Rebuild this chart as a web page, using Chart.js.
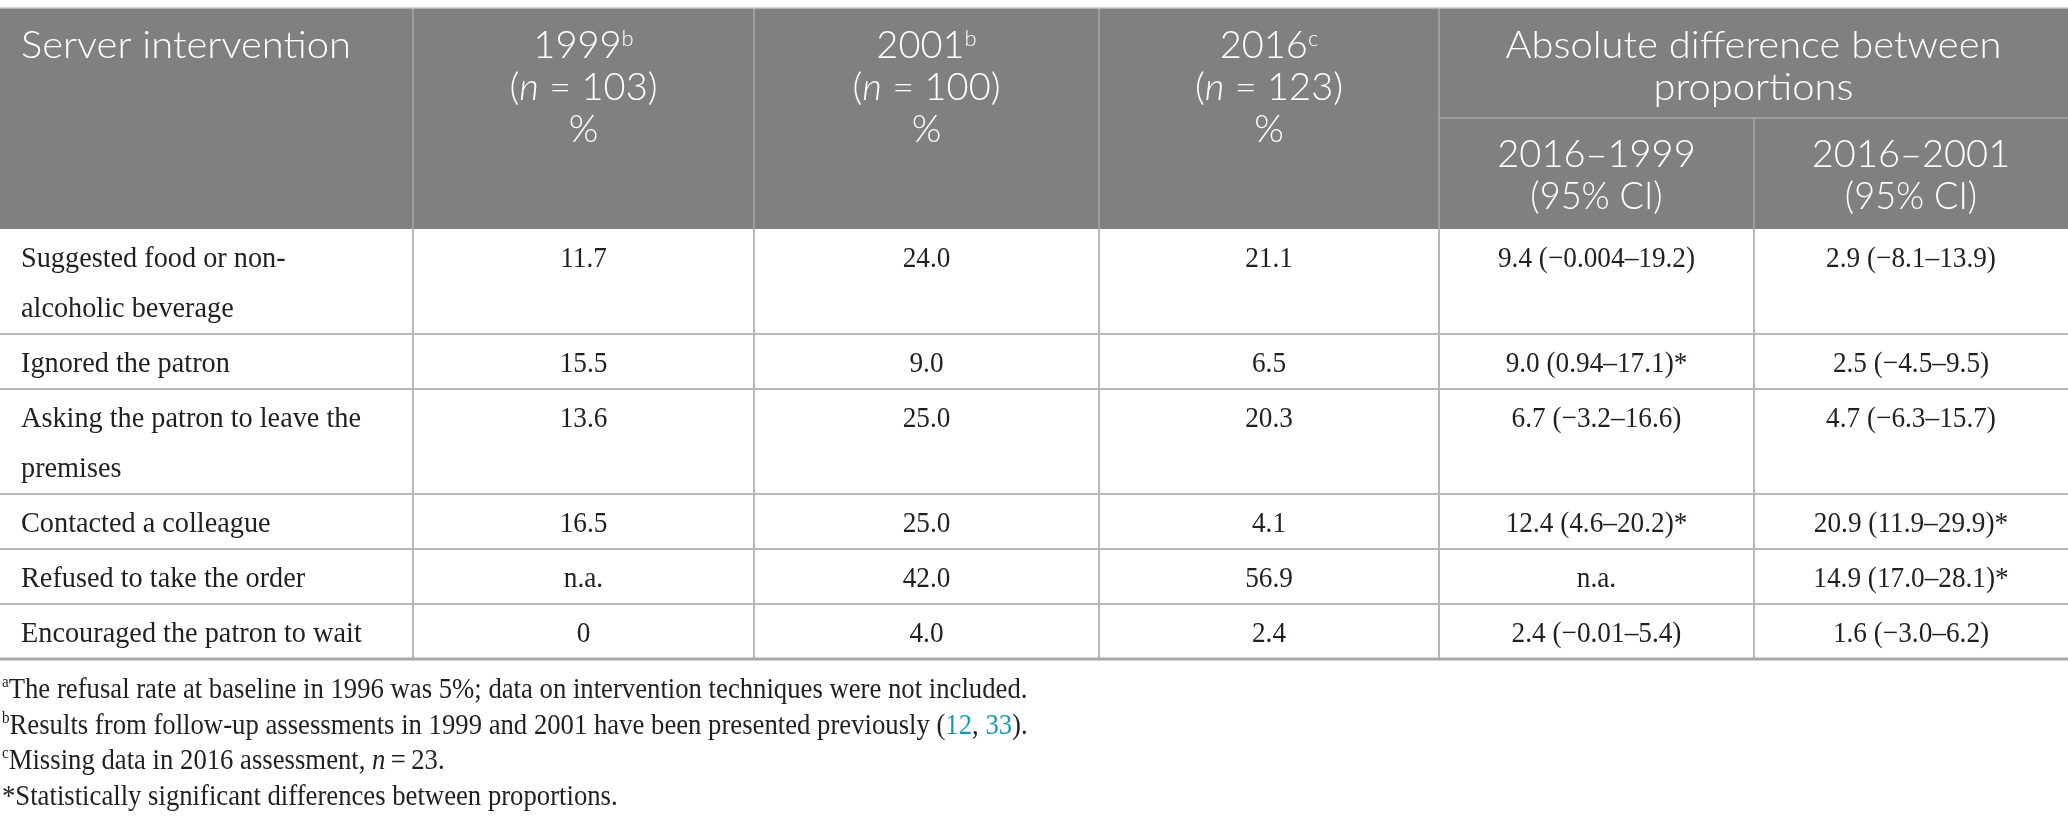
<!DOCTYPE html>
<html><head><meta charset="utf-8">
<script src="https://cdn.jsdelivr.net/npm/chart.js@4.4.0/dist/chart.umd.min.js"></script>
<style>html,body{margin:0;padding:0;background:#fff;}#wrap{width:2068px;height:830px;position:relative;}</style>
</head><body><div id="wrap"><canvas id="c"></canvas></div>
<script>
// ---- DATA ----
const interventions = [
  ["Suggested food or non-", "alcoholic beverage"],
  ["Ignored the patron"],
  ["Asking the patron to leave the", "premises"],
  ["Contacted a colleague"],
  ["Refused to take the order"],
  ["Encouraged the patron to wait"]
];
const pct1999 = ["11.7", "15.5", "13.6", "16.5", "n.a.", "0"];
const pct2001 = ["24.0", "9.0", "25.0", "25.0", "42.0", "4.0"];
const pct2016 = ["21.1", "6.5", "20.3", "4.1", "56.9", "2.4"];
const diff2016vs1999 = ["9.4 (\u22120.004\u201319.2)", "9.0 (0.94\u201317.1)*", "6.7 (\u22123.2\u201316.6)", "12.4 (4.6\u201320.2)*", "n.a.", "2.4 (\u22120.01\u20135.4)"];
const diff2016vs2001 = ["2.9 (\u22128.1\u201313.9)", "2.5 (\u22124.5\u20139.5)", "4.7 (\u22126.3\u201315.7)", "20.9 (11.9\u201329.9)*", "14.9 (17.0\u201328.1)*", "1.6 (\u22123.0\u20136.2)"];
const firstHeader = "Server intervention";
const years = ["1999", "2001", "2016"];
const yearNotes = ["b", "b", "c"];
const sampleSizes = ["103", "100", "123"];
const spanHeader = ["Absolute difference between", "proportions"];
const diffHeaders = ["2016\u20131999", "2016\u20132001"];
const ciLabel = "(95% CI)";
const footnoteMarks = ["a", "b", "c", "*"];
const footnoteTexts = [
  "The refusal rate at baseline in 1996 was 5%; data on intervention techniques were not included.",
  "Results from follow-up assessments in 1999 and 2001 have been presented previously (",
  "Missing data in 2016 assessment, ",
  "Statistically significant differences between proportions."
];
const refs = ["12", "33"];

// ---- LAYOUT / STYLE ----
const W = 2068, H = 830;
const colEdges = [0, 413, 754, 1099, 1439, 1754, 2068];
const headTop = 8, subLine = 118, headBottom = 229;
const rowBase = 38, lineGap = 50, rowPad = 55;
const SANS = "Lato, 'Open Sans', sans-serif";
const SERIF = "'Liberation Serif', 'DejaVu Serif', serif";
const headSize = 38, bodySize = 29, noteSize = 30;

function drawRich(ctx, segs, x, y, align) {
  let total = 0;
  segs.forEach(s => { ctx.font = s.font; s.w = ctx.measureText(s.t).width * (s.sx || 1); total += s.w; });
  let cx = align === 'center' ? x - total / 2 : x;
  ctx.textAlign = 'left'; ctx.textBaseline = 'alphabetic';
  segs.forEach(s => {
    ctx.font = s.font; ctx.fillStyle = s.color;
    ctx.save(); ctx.translate(cx, y + (s.dy || 0)); ctx.scale(s.sx || 1, 1);
    ctx.fillText(s.t, 0, 0); ctx.restore();
    cx += s.w;
  });
}

const tablePlugin = {
  id: 'table',
  afterDraw(chart) {
    const ctx = chart.ctx, xs = chart.scales.x, ys = chart.scales.y;
    const X = v => xs.getPixelForValue(v), Y = v => ys.getPixelForValue(v);
    const colMid = i => X((colEdges[i] + colEdges[i + 1]) / 2);
    ctx.save();
    // header background
    ctx.fillStyle = '#808080';
    ctx.fillRect(X(0), Y(headTop), X(W) - X(0), Y(headBottom) - Y(headTop));
    // header lines
    ctx.strokeStyle = '#a9a9a9'; ctx.lineWidth = 1.5;
    ctx.beginPath();
    for (let i = 1; i < colEdges.length - 1; i++) {
      const top = i === 5 ? subLine : headTop;
      ctx.moveTo(X(colEdges[i]), Y(top)); ctx.lineTo(X(colEdges[i]), Y(headBottom));
    }
    ctx.moveTo(X(colEdges[4]), Y(subLine)); ctx.lineTo(X(W), Y(subLine));
    ctx.stroke();
    ctx.strokeStyle = '#c4c4c4'; ctx.lineWidth = 1.5;
    ctx.beginPath(); ctx.moveTo(X(0), Y(headTop)); ctx.lineTo(X(W), Y(headTop)); ctx.stroke();

    // header text
    const hf = '300 ' + headSize + 'px ' + SANS, hfi = 'italic 300 ' + headSize + 'px ' + SANS, hsup = '300 22px ' + SANS;
    const wht = '#ffffff';
    drawRich(ctx, [{ t: firstHeader, font: hf, color: wht, sx: 1.05 }], X(21), Y(58), 'left');
    years.forEach((yr, i) => {
      const cx = colMid(i + 1);
      drawRich(ctx, [{ t: yr, font: hf, color: wht }, { t: yearNotes[i], font: hsup, color: wht, dy: -12 }], cx, Y(58), 'center');
      drawRich(ctx, [{ t: '(', font: hf, color: wht }, { t: 'n', font: hfi, color: wht }, { t: ' = ' + sampleSizes[i] + ')', font: hf, color: wht }], cx, Y(100), 'center');
      drawRich(ctx, [{ t: '%', font: hf, color: wht }], cx, Y(142), 'center');
    });
    const spanMid = X((colEdges[4] + colEdges[6]) / 2);
    spanHeader.forEach((t, k) => drawRich(ctx, [{ t, font: hf, color: wht, sx: 1.05 }], spanMid, Y(58 + 42 * k), 'center'));
    diffHeaders.forEach((t, k) => {
      drawRich(ctx, [{ t, font: hf, color: wht }], colMid(4 + k), Y(167), 'center');
      drawRich(ctx, [{ t: ciLabel, font: hf, color: wht, sx: 0.95 }], colMid(4 + k), Y(209), 'center');
    });

    // body
    const bf = bodySize + 'px ' + SERIF, ink = '#231f20';
    const cols = [pct1999, pct2001, pct2016, diff2016vs1999, diff2016vs2001];
    let top = headBottom;
    const rowEdges = [top];
    interventions.forEach((lines, r) => {
      const h = rowPad + lineGap * (lines.length - 1);
      lines.forEach((ln, k) => drawRich(ctx, [{ t: ln, font: bf, color: ink, sx: 0.975 }], X(21), Y(top + rowBase + lineGap * k), 'left'));
      cols.forEach((arr, c) => drawRich(ctx, [{ t: arr[r], font: bf, color: ink, sx: 0.94 }], colMid(c + 1), Y(top + rowBase), 'center'));
      top += h; rowEdges.push(top);
    });
    // body grid
    ctx.strokeStyle = '#b8b8b8'; ctx.lineWidth = 2;
    ctx.beginPath();
    rowEdges.slice(1, -1).forEach(e => { ctx.moveTo(X(0), Y(e)); ctx.lineTo(X(W), Y(e)); });
    for (let i = 1; i < colEdges.length - 1; i++) { ctx.moveTo(X(colEdges[i]), Y(headBottom)); ctx.lineTo(X(colEdges[i]), Y(top)); }
    ctx.stroke();
    ctx.strokeStyle = '#a8a8a8'; ctx.lineWidth = 3;
    ctx.beginPath(); ctx.moveTo(X(0), Y(top)); ctx.lineTo(X(W), Y(top)); ctx.stroke();

    // footnotes
    const nf = noteSize + 'px ' + SERIF, nfi = 'italic ' + noteSize + 'px ' + SERIF, nsup = '17px ' + SERIF;
    const sx = 0.89, teal = '#1b9ab2';
    const fb = top + 39, fg = 35.5;
    drawRich(ctx, [{ t: footnoteMarks[0], font: nsup, color: ink, dy: -11, sx }, { t: footnoteTexts[0], font: nf, color: ink, sx }], X(2), Y(fb), 'left');
    drawRich(ctx, [{ t: footnoteMarks[1], font: nsup, color: ink, dy: -11, sx }, { t: footnoteTexts[1], font: nf, color: ink, sx },
      { t: refs[0], font: nf, color: teal, sx }, { t: ', ', font: nf, color: ink, sx }, { t: refs[1], font: nf, color: teal, sx }, { t: ').', font: nf, color: ink, sx }], X(2), Y(fb + fg), 'left');
    drawRich(ctx, [{ t: footnoteMarks[2], font: nsup, color: ink, dy: -11, sx }, { t: footnoteTexts[2], font: nf, color: ink, sx },
      { t: 'n', font: nfi, color: ink, sx }, { t: '\u2009=\u200923.', font: nf, color: ink, sx }], X(2), Y(fb + 2 * fg), 'left');
    drawRich(ctx, [{ t: footnoteMarks[3], font: nf, color: ink, sx }, { t: footnoteTexts[3], font: nf, color: ink, sx }], X(2), Y(fb + 3 * fg), 'left');
    ctx.restore();
  }
};

new Chart(document.getElementById('c'), {
  type: 'scatter',
  data: { datasets: [] },
  options: {
    responsive: true, maintainAspectRatio: false, animation: false, events: [],
    layout: { padding: 0 },
    plugins: { legend: { display: false }, tooltip: { enabled: false }, title: { display: false } },
    scales: {
      x: { type: 'linear', min: 0, max: W, display: false },
      y: { type: 'linear', min: 0, max: H, reverse: true, display: false }
    }
  },
  plugins: [tablePlugin]
});
</script></body></html>
